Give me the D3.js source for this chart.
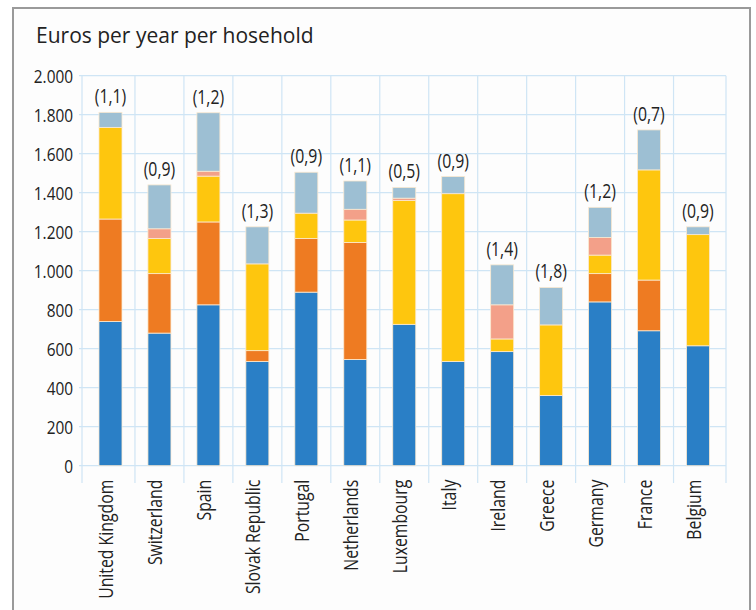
<!DOCTYPE html>
<html><head><meta charset="utf-8">
<script src="https://cdn.jsdelivr.net/npm/d3@7"></script>
<style>
html,body{margin:0;padding:0;background:#fff;}
svg{display:block;}
</style></head>
<body>
<svg id="c" width="756" height="610"></svg>
<script>
const countries = ["United Kingdom","Switzerland","Spain","Slovak Republic","Portugal","Netherlands","Luxembourg","Italy","Ireland","Greece","Germany","France","Belgium"];
const blueVals   = [740, 680, 825, 535, 890, 545, 725, 535, 585, 360, 840, 692, 615];
const orangeVals = [525, 305, 425,  55, 275, 600,   0,   0,   0,   0, 145, 260,   0];
const yellowVals = [470, 180, 235, 445, 130, 115, 635, 860,  65, 362,  95, 565, 570];
const pinkVals   = [  0,  50,  25,   0,   0,  55,  12,   0, 175,   0,  90,   0,   0];
const grayVals   = [ 77, 225, 300, 190, 210, 145,  55,  88, 205, 192, 155, 205,  40];
const ratioLabels = ["(1,1)","(0,9)","(1,2)","(1,3)","(0,9)","(1,1)","(0,5)","(0,9)","(1,4)","(1,8)","(1,2)","(0,7)","(0,9)"];
const yTicks = [0,200,400,600,800,1000,1200,1400,1600,1800,2000];
const yTickLabels = ["0","200","400","600","800","1.000","1.200","1.400","1.600","1.800","2.000"];
const seriesKeys = ["blue","orange","yellow","pink","gray"];
const seriesColors = ["#2a7fc6","#ee7b22","#fec60e","#f3a089","#9dbfd3"];
const titleText = "Euros per year per hosehold";

const rows = countries.map((c,i)=>({country:c, blue:blueVals[i], orange:orangeVals[i], yellow:yellowVals[i], pink:pinkVals[i], gray:grayVals[i], label:ratioLabels[i]}));

const svg = d3.select("#c");
const font = "'Open Sans',sans-serif";
const squeeze = 0.81;
const textColor = "#222";

// frame
svg.append("rect").attr("x",0).attr("y",0).attr("width",756).attr("height",610).attr("fill","#fff");
svg.append("rect").attr("x",13).attr("y",8).attr("width",737).attr("height",620)
  .attr("fill","#fdfdfd").attr("stroke","#9a9a9a").attr("stroke-width",2);

const x = d3.scaleBand().domain(countries).range([86,722.5]).paddingInner(0.53).paddingOuter(0.265);
const y = d3.scaleLinear().domain([0,2000]).range([465.7,75.7]);

const plotL = 81, plotR = 726;

// grid horizontal
const g = svg.append("g");
g.selectAll("line.h").data(yTicks).join("line")
  .attr("x1",plotL-2).attr("x2",plotR).attr("y1",d=>y(d)).attr("y2",d=>y(d))
  .attr("stroke","#cfe5f5").attr("stroke-width",1.2);
// grid vertical: band boundaries
const step = x.step();
const bounds = d3.range(countries.length+1).map(i=>86+i*step);
bounds[0]=plotL+1; bounds[bounds.length-1]=plotR;
g.selectAll("line.v").data(bounds).join("line")
  .attr("x1",d=>d).attr("x2",d=>d).attr("y1",y(2000)).attr("y2",483)
  .attr("stroke","#cfe5f5").attr("stroke-width",1.2);

// stacked bars
const stack = d3.stack().keys(seriesKeys)(rows);
const color = d3.scaleOrdinal().domain(seriesKeys).range(seriesColors);
svg.append("g").selectAll("g").data(stack).join("g").attr("fill",d=>color(d.key))
  .selectAll("rect").data(d=>d).join("rect")
  .attr("x",d=>x(d.data.country))
  .attr("width",x.bandwidth())
  .attr("y",d=>y(d[1]))
  .attr("height",d=>Math.max(0,y(d[0])-y(d[1])))
  .attr("stroke","#fbe9d0").attr("stroke-width",d=>(d[1]-d[0])>0?0.8:0)
  .style("display",d=>(d[1]-d[0])>0?null:"none");

// ratio labels
svg.append("g").selectAll("text").data(rows).join("text")
  .attr("transform",d=>`translate(${x(d.country)+x.bandwidth()/2},${y(d.blue+d.orange+d.yellow+d.pink+d.gray)-9}) scale(${squeeze},1)`)
  .attr("text-anchor","middle")
  .attr("font-family",font).attr("font-size",19.5).attr("fill",textColor)
  .text(d=>d.label);

// y axis labels
const yAxis = d3.axisLeft(y).tickValues(yTicks).tickFormat((d,i)=>yTickLabels[i]).tickSize(0).tickPadding(8);
const ya = svg.append("g").attr("transform",`translate(${plotL},0)`).call(yAxis);
ya.select(".domain").remove();
ya.selectAll("text").attr("font-family",font).attr("font-size",19).attr("fill",textColor)
  .attr("x",0).attr("dy","0.35em").attr("transform",`translate(-8,0) scale(${squeeze},1)`);

// x axis labels
const xAxis = d3.axisBottom(x).tickSize(0).tickPadding(0);
const xa = svg.append("g").attr("transform",`translate(0,${y(0)})`).call(xAxis);
xa.select(".domain").remove();
xa.selectAll("text")
  .attr("font-family",font).attr("font-size",20).attr("fill",textColor)
  .attr("text-anchor","end").attr("dy",null)
  .attr("transform",`translate(3,14) rotate(-90) scale(0.79,1)`)
  .attr("x",0).attr("y",0);

// title
svg.append("text").attr("x",36).attr("y",43)
  .attr("font-family",font).attr("font-size",21).attr("fill",textColor)
  .text(titleText);
</script>
</body></html>
